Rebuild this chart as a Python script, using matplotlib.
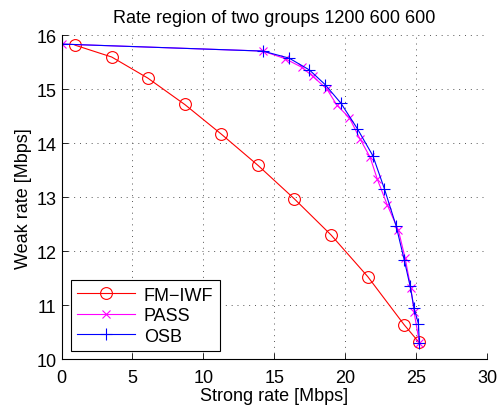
import matplotlib
matplotlib.use("Agg")
import matplotlib.pyplot as plt

# values
fm_x = [0.95, 3.54, 6.08, 8.69, 11.27, 13.86, 16.42, 19.01, 21.59, 24.15, 25.21]
fm_y = [15.82, 15.60, 15.21, 14.72, 14.17, 13.59, 12.97, 12.30, 11.53, 10.64, 10.31]

pass_x = [0.0, 14.19, 15.76, 16.94, 17.72, 18.70, 19.41, 20.30, 21.05, 21.76, 22.27,
          22.98, 23.75, 24.22, 24.63, 24.86, 25.23]
pass_y = [15.84, 15.71, 15.57, 15.41, 15.24, 15.01, 14.71, 14.47, 14.08, 13.74, 13.33,
          12.85, 12.39, 11.88, 11.32, 10.87, 10.30]

osb_x = [0.0, 14.19, 16.04, 17.48, 18.58, 19.71, 20.86, 21.95, 22.76, 23.59, 24.17,
         24.58, 24.86, 25.16, 25.23]
osb_y = [15.84, 15.71, 15.58, 15.36, 15.09, 14.74, 14.27, 13.77, 13.16, 12.47, 11.83,
         11.35, 10.94, 10.66, 10.30]

plt.rcParams['font.family'] = ['Liberation Sans', 'DejaVu Sans']
plt.rcParams['font.size'] = 13

fig = plt.figure(figsize=(4.98, 4.14), dpi=100)
ax = fig.add_axes([0.1235, 0.130, 0.8545, 0.782])

ax.plot(fm_x, fm_y, color='#ff0000', lw=0.8, marker='o', ms=8.5,
        mfc='none', mec='#ff0000', mew=0.8, label='FM\u2212IWF')
ax.plot(pass_x, pass_y, color='#ff00ff', lw=0.8, marker='x', ms=6,
        mew=0.8, label='PASS')
ax.plot(osb_x, osb_y, color='#0000ff', lw=0.8, marker='+', ms=8,
        mew=0.8, label='OSB')

ax.set_xlim(0, 30)
ax.set_ylim(10, 16)
ax.set_xticks([0, 5, 10, 15, 20, 25, 30])
ax.set_yticks([10, 11, 12, 13, 14, 15, 16])
ax.grid(True, linestyle=(0, (1, 5)), color='#555555', lw=0.7)
ax.tick_params(direction='in', length=4, width=0.6, labelsize=13)
ax.tick_params(axis='x', pad=7)
ax.spines['top'].set_visible(False)
ax.spines['right'].set_visible(False)
ax.spines['left'].set_linewidth(0.8)
ax.spines['bottom'].set_linewidth(0.8)

ax.set_title('Rate region of two groups 1200 600 600', fontsize=13, pad=10)
ax.set_xlabel('Strong rate [Mbps]', fontsize=13, labelpad=1)
ax.set_ylabel('Weak rate [Mbps]', fontsize=13, labelpad=3)

leg = ax.legend(loc='lower left', fancybox=False, framealpha=1, edgecolor='black',
                handlelength=3.2, borderpad=0.35, labelspacing=0.2, borderaxespad=0,
                handletextpad=0.5, bbox_to_anchor=(0.022, 0.025), fontsize=13)
leg.get_frame().set_linewidth(0.8)

fig.savefig('out.png', dpi=100)
